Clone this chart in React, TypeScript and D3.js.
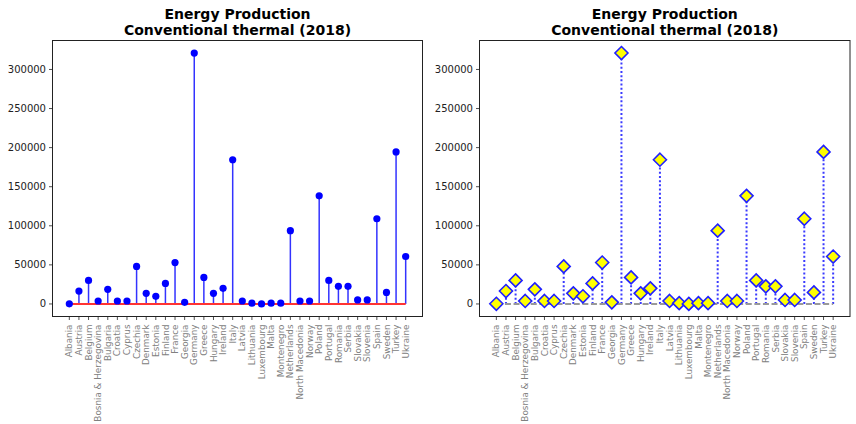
import React from 'react';
import * as d3 from 'd3';

const countries = [
  'Albania', 'Austria', 'Belgium', 'Bosnia & Herzegovina', 'Bulgaria', 'Croatia',
  'Cyprus', 'Czechia', 'Denmark', 'Estonia', 'Finland', 'France', 'Georgia',
  'Germany', 'Greece', 'Hungary', 'Ireland', 'Italy', 'Latvia', 'Lithuania',
  'Luxembourg', 'Malta', 'Montenegro', 'Netherlands', 'North Macedonia', 'Norway',
  'Poland', 'Portugal', 'Romania', 'Serbia', 'Slovakia', 'Slovenia', 'Spain',
  'Sweden', 'Turkey', 'Ukraine'
];

// GWh, conventional thermal production 2018
const production = [
  200, 16500, 30100, 3800, 18700, 3800,
  3800, 48000, 13600, 9800, 26300, 53000, 2100,
  321000, 34000, 13600, 20000, 184500, 3800, 1000,
  100, 1000, 1000, 93800, 3800, 3800,
  138300, 30100, 22500, 22500, 5100, 5100, 109000,
  14800, 194500, 60700
];

const yTicks = [0, 50000, 100000, 150000, 200000, 250000, 300000];

const titleLines = ['Energy Production', 'Conventional thermal (2018)'];

const TOP = 40.5;
const BOTTOM = 316.5;

interface PanelProps {
  left: number;
  right: number;
  variant: 'classic' | 'diamond';
}

const Panel: React.FC<PanelProps> = ({ left, right, variant }) => {
  const n = countries.length;
  const pad = (n - 1) * 0.05;
  const x = d3.scaleLinear().domain([-pad, n - 1 + pad]).range([left, right]);
  const ymax = d3.max(production) || 0;
  const ymin = 0;
  const ym = (ymax - ymin) * 0.05;
  const y = d3.scaleLinear().domain([ymin - ym, ymax + ym]).range([BOTTOM, TOP]);
  const cx = (left + right) / 2;

  const baseline = d3.line<number>().x(i => x(i)).y(() => y(0));

  return (
    <g>
      {titleLines.map((t, i) => (
        <text key={t} x={cx} y={19 + i * 15.5} textAnchor="middle"
          fontFamily="DejaVu Sans" fontWeight="bold" fontSize={14} fill="#000">
          {t}
        </text>
      ))}

      {/* stems */}
      {production.map((v, i) => (
        <line key={'s' + i} x1={x(i)} x2={x(i)} y1={y(0)} y2={y(v)}
          stroke={variant === 'classic' ? '#3333ff' : '#3a3aff'}
          strokeWidth={variant === 'classic' ? 1.5 : 2}
          strokeDasharray={variant === 'classic' ? undefined : '2,2.2'} />
      ))}

      {/* baseline */}
      <path d={baseline([0, n - 1]) || ''} fill="none"
        stroke={variant === 'classic' ? '#ff3333' : '#999999'}
        strokeWidth={2}
        strokeDasharray={variant === 'classic' ? undefined : '6,2.6'} />

      {/* markers */}
      {production.map((v, i) =>
        variant === 'classic' ? (
          <circle key={'m' + i} cx={x(i)} cy={y(v)} r={3.6} fill="#0000ff" />
        ) : (
          <path key={'m' + i}
            d={`M${x(i)},${y(v) - 6.5}L${x(i) + 6.5},${y(v)}L${x(i)},${y(v) + 6.5}L${x(i) - 6.5},${y(v)}Z`}
            fill="#ffff00" stroke="#2020ff" strokeWidth={1.6} />
        )
      )}

      {/* frame */}
      <rect x={left} y={TOP} width={right - left} height={BOTTOM - TOP}
        fill="none" stroke="#222" strokeWidth={1} />

      {/* y axis */}
      {yTicks.map(t => (
        <g key={'y' + t}>
          <line x1={left - 3.5} x2={left} y1={y(t)} y2={y(t)} stroke="#222" strokeWidth={0.8} />
          <text x={left - 6.5} y={y(t)} dy="0.35em" textAnchor="end"
            fontFamily="DejaVu Sans" fontSize={10} fill="#222">
            {t}
          </text>
        </g>
      ))}

      {/* x axis */}
      {countries.map((c, i) => (
        <g key={'x' + c}>
          <line x1={x(i)} x2={x(i)} y1={BOTTOM} y2={BOTTOM + 3.5} stroke="#222" strokeWidth={0.8} />
          <text transform={`translate(${x(i)},${BOTTOM + 8}) rotate(-90)`} dy="0.35em"
            textAnchor="end" fontFamily="DejaVu Sans" fontSize={8.8} fill="#808080">
            {c}
          </text>
        </g>
      ))}
    </g>
  );
};

export default function App() {
  return (
    <svg width={856} height={424} style={{ position: 'absolute', left: 0, top: 0, background: '#fff' }}>
      <Panel left={52.5} right={422.5} variant="classic" />
      <Panel left={479.5} right={850} variant="diamond" />
    </svg>
  );
}
